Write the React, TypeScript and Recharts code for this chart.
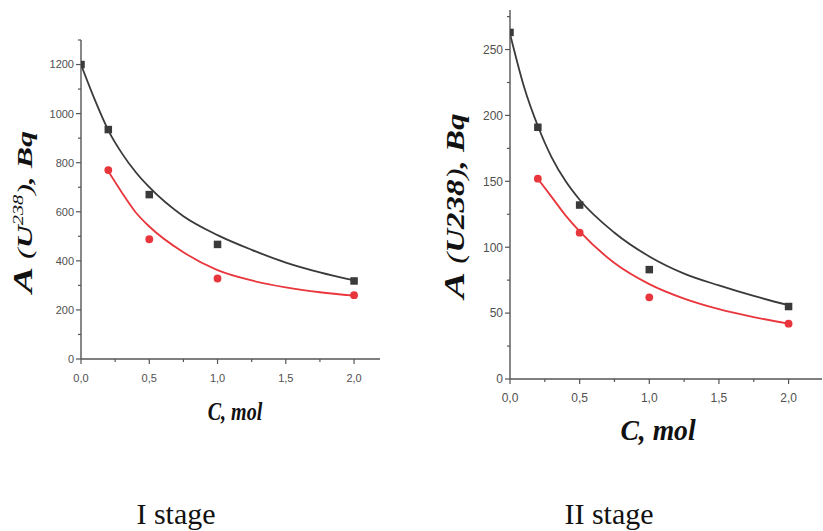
import React from "react";
import { ComposedChart, Line, Scatter, XAxis, YAxis } from "recharts";

// concentrations, mol
const concSquares = [0, 0.2, 0.5, 1.0, 2.0];
const concCircles = [0.2, 0.5, 1.0, 2.0];
const concFitBlack = [0, 0.1, 0.2, 0.3, 0.4, 0.5, 0.75, 1.0, 1.25, 1.5, 1.75, 2.0];
const concFitRed = [0.2, 0.3, 0.4, 0.5, 0.75, 1.0, 1.25, 1.5, 1.75, 2.0];

// stage I activity, Bq
const stage1Squares = [1200, 935, 670, 467, 318];
const stage1Circles = [770, 488, 328, 260];
const stage1FitBlack = [1200, 1058, 932, 838, 762, 700, 582, 505, 445, 393, 353, 320];
const stage1FitRed = [765, 678, 598, 540, 435, 362, 320, 292, 272, 258];

// stage II activity, Bq
const stage2Squares = [263, 191, 132, 83, 55];
const stage2Circles = [152, 111, 62, 42];
const stage2FitBlack = [262, 222, 192, 168, 150, 136, 111, 93, 80, 71, 63, 56];
const stage2FitRed = [152, 138, 124, 112, 88, 72, 61, 53, 47, 42];

// axis ticks (majors get labels)
const xTicks = [0, 0.25, 0.5, 0.75, 1.0, 1.25, 1.5, 1.75, 2.0];
const xMajor = [0, 0.5, 1.0, 1.5, 2.0];
const y1Ticks = [0, 100, 200, 300, 400, 500, 600, 700, 800, 900, 1000, 1100, 1200, 1300];
const y1Major = [0, 200, 400, 600, 800, 1000, 1200];
const y2Ticks = [0, 25, 50, 75, 100, 125, 150, 175, 200, 225, 250, 275];
const y2Major = [0, 50, 100, 150, 200, 250];

const AXIS = "#555555";
const TICK_TEXT = "#505050";
const DARK = "#3a3a3a";
const RED = "#e8363c";
const SANS = "'Liberation Sans', Arial, sans-serif";
const SERIF = "'Liberation Serif', 'Times New Roman', serif";
const X_AXIS_H = 40;

type Pt = { x: number; y: number };
const zip = (xs: number[], ys: number[]): Pt[] => xs.map((x, i) => ({ x, y: ys[i] }));
const fmtX = (v: number) => v.toFixed(1).replace(".", ",");

const makeXTick = (fs: number, gap: number) => (props: any) => {
  const { x, y, payload } = props;
  const major = xMajor.includes(payload.value);
  return (
    <g>
      <line x1={x} x2={x} y1={y} y2={y + (major ? 5 : 3)} stroke={AXIS} strokeWidth={1.2} />
      {major && (
        <text x={x} y={y + gap} textAnchor="middle" fontSize={fs} fill={TICK_TEXT} fontFamily={SANS}>
          {fmtX(payload.value)}
        </text>
      )}
    </g>
  );
};

const makeYTick = (majors: number[], fs: number) => (props: any) => {
  const { x, y, payload } = props;
  const major = majors.includes(payload.value);
  return (
    <g>
      <line x1={x} x2={x - (major ? 5 : 3)} y1={y} y2={y} stroke={AXIS} strokeWidth={1.2} />
      {major && (
        <text x={x - 7} y={y + fs * 0.36} textAnchor="end" fontSize={fs} fill={TICK_TEXT} fontFamily={SANS}>
          {payload.value}
        </text>
      )}
    </g>
  );
};

const Square = (props: any) => (
  <rect x={props.cx - 3.75} y={props.cy - 3.75} width={7.5} height={7.5} fill={DARK} />
);
const Dot = (props: any) => <circle cx={props.cx} cy={props.cy} r={3.9} fill={RED} />;

interface StageProps {
  left: number;
  width: number;
  plotBottom: number;
  top: number;
  axisWidth: number;
  xMax: number;
  yMax: number;
  yTicks: number[];
  yMajor: number[];
  fs: number;
  squares: number[];
  circles: number[];
  fitBlack: number[];
  fitRed: number[];
}

const StageChart = (p: StageProps) => (
  <div style={{ position: "absolute", left: p.left, top: 0 }}>
    <ComposedChart
      width={p.width}
      height={p.plotBottom + X_AXIS_H}
      margin={{ top: p.top, right: 1, bottom: 0, left: 0 }}
    >
      <XAxis
        type="number"
        dataKey="x"
        domain={[0, p.xMax]}
        ticks={xTicks}
        interval={0}
        height={X_AXIS_H}
        tickSize={0}
        tickMargin={0}
        tickLine={false}
        axisLine={{ stroke: AXIS, strokeWidth: 1.4 }}
        tick={makeXTick(p.fs, 23)}
        allowDataOverflow
      />
      <YAxis
        type="number"
        dataKey="y"
        domain={[0, p.yMax]}
        ticks={p.yTicks}
        interval={0}
        width={p.axisWidth}
        tickSize={0}
        tickMargin={0}
        tickLine={false}
        axisLine={{ stroke: AXIS, strokeWidth: 1.4 }}
        tick={makeYTick(p.yMajor, p.fs)}
        allowDataOverflow
      />
      <Line
        data={zip(concFitBlack, p.fitBlack)}
        dataKey="y"
        type="monotone"
        stroke={DARK}
        strokeWidth={1.8}
        dot={false}
        isAnimationActive={false}
      />
      <Line
        data={zip(concFitRed, p.fitRed)}
        dataKey="y"
        type="monotone"
        stroke={RED}
        strokeWidth={1.8}
        dot={false}
        isAnimationActive={false}
      />
      <Scatter data={zip(concSquares, p.squares)} dataKey="y" shape={Square} isAnimationActive={false} />
      <Scatter data={zip(concCircles, p.circles)} dataKey="y" shape={Dot} isAnimationActive={false} />
    </ComposedChart>
  </div>
);

const title: React.CSSProperties = {
  position: "absolute",
  fontFamily: SERIF,
  fontWeight: "bold",
  fontStyle: "italic",
  whiteSpace: "nowrap",
  color: "#111",
  lineHeight: 1,
};

export default function App() {
  return (
    <div style={{ position: "absolute", left: 0, top: 0, width: 823, height: 531, background: "#fff", overflow: "hidden" }}>
      <StageChart
        left={0}
        width={381}
        plotBottom={359}
        top={40}
        axisWidth={81}
        xMax={2.19}
        yMax={1300}
        yTicks={y1Ticks}
        yMajor={y1Major}
        fs={11}
        squares={stage1Squares}
        circles={stage1Circles}
        fitBlack={stage1FitBlack}
        fitRed={stage1FitRed}
      />
      <StageChart
        left={430}
        width={393}
        plotBottom={379}
        top={10}
        axisWidth={80}
        xMax={2.24}
        yMax={280}
        yTicks={y2Ticks}
        yMajor={y2Major}
        fs={12}
        squares={stage2Squares}
        circles={stage2Circles}
        fitBlack={stage2FitBlack}
        fitRed={stage2FitRed}
      />

      <div
        style={{
          ...title,
          left: 23,
          top: 212,
          fontSize: 22,
          transform: "translate(-50%, -50%) rotate(-90deg) scaleX(1.45)",
        }}
      >
        <span style={{ fontSize: 27 }}>A</span> <span style={{ fontWeight: "normal" }}>(</span>U
        <sup style={{ fontSize: 14, fontWeight: "normal" }}>238</sup>
        <span style={{ fontWeight: "normal" }}>)</span>, Bq
      </div>
      <div
        style={{
          ...title,
          left: 454,
          top: 206,
          fontSize: 25,
          transform: "translate(-50%, -50%) rotate(-90deg) scaleX(1.32)",
        }}
      >
        <span style={{ fontSize: 30 }}>A</span> <span style={{ fontWeight: "normal" }}>(</span>U238
        <span style={{ fontWeight: "normal" }}>)</span>, Bq
      </div>

      <div style={{ ...title, left: 235, top: 411, fontSize: 25, transform: "translate(-50%, -50%) scaleX(0.8)" }}>
        C, mol
      </div>
      <div style={{ ...title, left: 658, top: 430, fontSize: 30, transform: "translate(-50%, -50%) scaleX(0.92)" }}>
        C, mol
      </div>

      <div
        style={{
          ...title,
          fontWeight: "normal",
          fontStyle: "normal",
          left: 176,
          top: 514,
          fontSize: 30,
          transform: "translate(-50%, -50%)",
        }}
      >
        I stage
      </div>
      <div
        style={{
          ...title,
          fontWeight: "normal",
          fontStyle: "normal",
          left: 609,
          top: 514,
          fontSize: 30,
          transform: "translate(-50%, -50%)",
        }}
      >
        II stage
      </div>
    </div>
  );
}
